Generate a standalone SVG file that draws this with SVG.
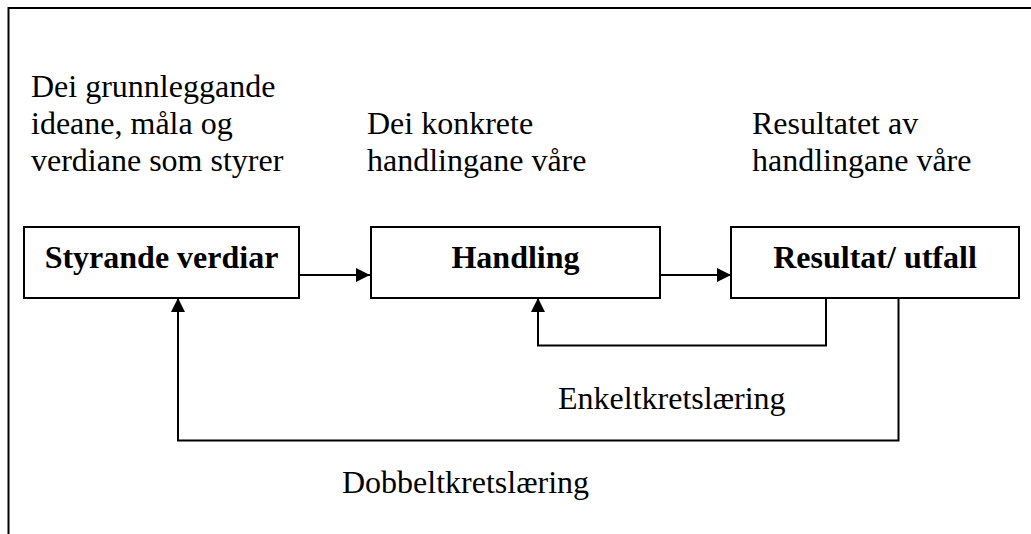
<svg xmlns="http://www.w3.org/2000/svg" width="1031" height="534" viewBox="0 0 1031 534">
<style>
.t{font-family:"Liberation Serif","Times New Roman",serif;font-size:32px;fill:#000}
.b{font-weight:bold;text-anchor:middle}
.box{fill:#fff;stroke:#000;stroke-width:2}
.ln{fill:none;stroke:#000;stroke-width:2}
</style>
<defs>
<marker id="ah" viewBox="0 0 14 14" refX="14" refY="7" markerWidth="14" markerHeight="14" markerUnits="userSpaceOnUse" orient="auto">
<path d="M0,0 L14,7 L0,14 Z" fill="#000"/>
</marker>
</defs>
<rect width="1031" height="534" fill="#fff"/>
<path class="ln" d="M8.5,534 V8 H1031"/>
<g id="labels">
<text class="t" x="31" y="97">Dei grunnleggande</text>
<text class="t" x="31" y="134">ideane, måla og</text>
<text class="t" x="31" y="171">verdiane som styrer</text>
<text class="t" x="367" y="134">Dei konkrete</text>
<text class="t" x="367" y="171">handlingane våre</text>
<text class="t" x="752" y="134">Resultatet av</text>
<text class="t" x="752" y="171">handlingane våre</text>
<text class="t" x="558" y="409">Enkeltkretslæring</text>
<text class="t" x="342" y="493">Dobbeltkretslæring</text>
</g>
<g id="connectors">
<path class="ln" d="M299,275 H370" marker-end="url(#ah)"/>
<path class="ln" d="M660,275 H731" marker-end="url(#ah)"/>
<path class="ln" d="M826,298 V345.5 H538 V298" marker-end="url(#ah)"/>
<path class="ln" d="M898.5,298 V440.5 H178 V298" marker-end="url(#ah)"/>
</g>
<g id="styrande">
<rect class="box" x="24" y="227" width="275" height="71"/>
<text class="t b" x="161.5" y="268">Styrande verdiar</text>
</g>
<g id="handling">
<rect class="box" x="371" y="227" width="289" height="71"/>
<text class="t b" x="515.5" y="268">Handling</text>
</g>
<g id="resultat">
<rect class="box" x="731" y="227" width="288" height="71"/>
<text class="t b" x="875" y="268">Resultat/ utfall</text>
</g>
</svg>
